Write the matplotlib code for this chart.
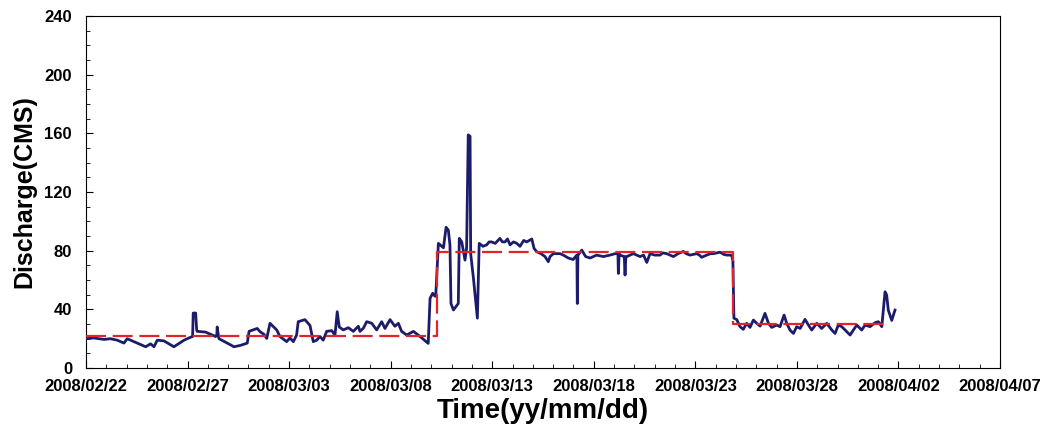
import matplotlib
matplotlib.use("Agg")
import matplotlib.pyplot as plt
import matplotlib.dates as mdates
import pandas as pd

plt.rcParams['font.family'] = ['Liberation Sans', 'DejaVu Sans']

start = pd.Timestamp("2008-02-22")

# observed discharge: time in days after 2008/02/22, value in CMS
obsDays = [
	0.00, 0.39, 0.89, 1.20, 1.54, 1.87, 2.03, 2.36, 2.94, 3.18, 3.35, 3.51, 3.84, 4.33,
	4.66, 4.83, 5.15, 5.25, 5.28, 5.40, 5.45, 5.48, 5.89, 6.38, 6.44, 6.46, 6.52, 6.55,
	7.29, 7.62, 7.94, 8.03, 8.43, 8.57, 8.76, 8.90, 9.06, 9.39, 9.55, 9.88, 10.04, 10.21,
	10.37, 10.45, 10.78, 11.03, 11.19, 11.36, 11.52, 11.68, 11.85, 12.10, 12.26, 12.37,
	12.47, 12.67, 12.92, 13.16, 13.41, 13.49, 13.65, 13.82, 14.07, 14.31, 14.56, 14.72,
	14.97, 15.21, 15.38, 15.54, 15.79, 16.12, 16.45, 16.85, 16.94, 17.07, 17.18, 17.22,
	17.35, 17.60, 17.73, 17.84, 17.92, 17.97, 18.09, 18.22, 18.33, 18.38, 18.50, 18.58,
	18.66, 18.74, 18.82, 18.91, 18.94, 19.07, 19.27, 19.36, 19.55, 19.73, 19.85, 19.97,
	20.15, 20.38, 20.50, 20.63, 20.75, 20.88, 21.05, 21.21, 21.37, 21.55, 21.70, 21.95,
	22.06, 22.19, 22.40, 22.60, 22.76, 22.85, 23.01, 23.34, 23.50, 23.75, 23.99, 24.10,
	24.17, 24.19, 24.22, 24.41, 24.60, 24.82, 25.14, 25.47, 25.80, 26.05, 26.19, 26.21,
	26.25, 26.29, 26.50, 26.54, 26.58, 26.62, 26.95, 27.28, 27.45, 27.61, 27.77, 28.00,
	28.26, 28.40, 28.59, 28.75, 28.92, 29.15, 29.41, 29.55, 29.74, 30.07, 30.20, 30.31,
	30.56, 30.75, 30.89, 31.22, 31.40, 31.55, 31.79, 31.85, 31.90, 32.04, 32.20, 32.36,
	32.53, 32.69, 32.86, 33.02, 33.19, 33.43, 33.60, 33.76, 34.01, 34.17, 34.37, 34.50,
	34.66, 34.83, 34.99, 35.16, 35.40, 35.57, 35.73, 35.98, 36.22, 36.47, 36.72, 36.88,
	37.04, 37.21, 37.45, 37.62, 37.78, 37.95, 38.19, 38.36, 38.60, 38.85, 39.01, 39.18,
	39.34, 39.42, 39.50, 39.67, 39.83,
]
obsQ = [
	20, 20.5, 19.5, 20, 19, 17, 20, 18, 14.5, 16.5, 14.5, 19, 18.5, 14.5,
	17.5, 19, 21, 21.5, 37.5, 37.5, 26, 25, 24.5, 21.5, 22, 28, 22, 20,
	14.5, 15.5, 17, 25, 27, 24.8, 23, 20.2, 30.5, 26, 21.5, 18, 20.5, 18,
	22.5, 31.6, 33, 29, 18, 19, 21.5, 19, 25, 25.5, 22.5, 38.4,
	28, 26, 27.5, 25, 28.5, 25, 27, 31.6, 30.5, 26, 31.6, 27,
	33, 28.5, 30.5, 25, 22.5, 25, 21.5, 16.8, 47.5, 51, 49, 49,
	85, 82, 96, 94, 84, 44, 39.6, 42, 44, 88.4, 86, 80,
	73.6, 82, 159, 158, 78, 62, 34, 85, 83, 84, 86, 86,
	85, 88.4, 86, 86, 88, 84, 86, 85, 83, 87, 86, 88,
	81.6, 79.3, 78, 76, 72.5, 76, 78, 78, 77, 75, 74, 76,
	77, 44, 77, 80.4, 76, 75, 77, 76, 77, 78, 78, 64.5,
	78, 77, 76, 63.4, 76, 76, 78, 76, 77, 72, 78, 77,
	77, 78.5, 78, 77, 76, 78, 79.5, 78, 77, 78, 77, 75.5,
	77, 78, 78, 79, 77.5, 77, 77, 73, 34, 33, 28.2, 26.4,
	30.5, 27.7, 32.7, 30.5, 28.6, 37.3, 30.5, 27.7, 29.3, 28.2, 36.1, 30.5,
	25.9, 23.6, 28.2, 27, 33.2, 29.3, 25.9, 30.5, 27, 30.5, 25.9, 23.6,
	29.3, 28.2, 24.8, 22.5, 25.9, 29.3, 25.9, 29.3, 28.2, 30.9, 31.6, 28.2,
	52, 49.8, 39.5, 32.5, 39.5,
]

# period means (red dashed steps)
meanDays = [0.0, 17.27, 31.87, 39.34]
meanQ = [22, 79, 30]

obsTime = start + pd.to_timedelta(obsDays, unit="D")
meanTime = start + pd.to_timedelta(meanDays, unit="D")

fig = plt.figure(figsize=(10.42, 4.34), dpi=100)
ax = fig.add_axes([0.0825, 0.152, 0.8772, 0.811])

ax.plot(obsTime, obsQ, color="#1c1c6b", linewidth=2.0, zorder=3)
ax.step(meanTime, meanQ + [meanQ[-1]], where="post", color="#e0242a",
	linewidth=1.6, dashes=(9, 3), zorder=4)

ax.set_xlim(pd.Timestamp("2008-02-22"), pd.Timestamp("2008-04-07"))
ax.set_ylim(0, 240)
ax.set_xticks(pd.date_range("2008-02-22", "2008-04-07", freq="5D"))
ax.xaxis.set_minor_locator(mdates.DayLocator())
ax.xaxis.set_major_formatter(mdates.DateFormatter("%Y/%m/%d"))
ax.set_yticks(range(0, 241, 40))
ax.set_yticks(range(0, 241, 10), minor=True)

ax.tick_params(which="both", direction="in", top=False, right=False)
ax.tick_params(which="major", length=5, labelsize=12)
ax.tick_params(which="minor", length=3)
ax.tick_params(axis="y", pad=10)
ax.tick_params(axis="x", pad=8)
for lab in ax.get_xticklabels() + ax.get_yticklabels():
	lab.set_fontweight("bold")
for s in ax.spines.values():
	s.set_linewidth(0.8)

ax.set_xlabel("Time(yy/mm/dd)", fontsize=20, fontweight="bold", labelpad=3)
ax.set_ylabel("Discharge(CMS)", fontsize=18, fontweight="bold", labelpad=6)

fig.savefig("out.png", dpi=100)
